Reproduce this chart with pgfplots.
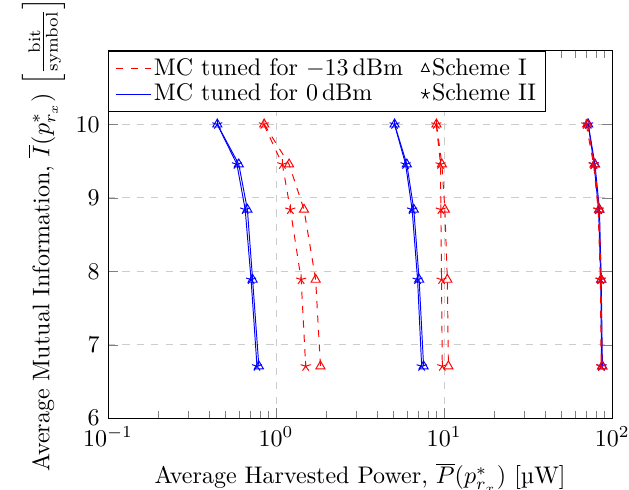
\documentclass[border=0pt]{standalone}
\usepackage{pgfplots}
\pgfplotsset{compat=1.18}
\begin{document}
\begin{tikzpicture}
\begin{axis}[
  at={(0,0)}, anchor=south west,
  scale only axis,
  width=210pt, height=153pt,
  xmode=log,
  xmin=0.1, xmax=100,
  ymin=6, ymax=11,
  ytick={6,7,8,9,10},
  grid=major,
  major grid style={dashed, gray!40},
  xlabel={Average Harvested Power, $\overline{P}(p^*_{r_x})$ [\textmu W]},
  ylabel={Average Mutual Information, $\overline{I}(p^*_{r_x})$ $\left[\frac{\mathrm{bit}}{\mathrm{symbol}}\right]$},
  ylabel shift=-2.5pt,
  legend columns=2,
  legend style={at={(0,1)}, anchor=north west,
    nodes={inner sep=1pt}, inner ysep=2pt,
    /tikz/column 2/.style={column sep=6.5pt}},
  legend cell align=left,
  legend image post style={xscale=0.85},
  mark size=2.2pt,
]
\addlegendimage{red, dashed}
\addlegendentry{MC tuned for $-13\,\mathrm{dBm}$}
\addlegendimage{black, only marks, mark=triangle}
\addlegendentry{Scheme I}
\addlegendimage{blue}
\addlegendentry{MC tuned for $0\,\mathrm{dBm}$}
\addlegendimage{black, only marks, mark=star}
\addlegendentry{Scheme II}

% Blue, Scheme I
\addplot[blue, mark=triangle, forget plot] coordinates {(0.447,10) (0.600,9.456) (0.675,8.84) (0.725,7.887) (0.790,6.707)};
\addplot[blue, mark=triangle, forget plot] coordinates {(5.07,10) (6.00,9.456) (6.60,8.84) (7.10,7.887) (7.55,6.707)};
\addplot[blue, mark=triangle, forget plot] coordinates {(72,10) (79,9.456) (84,8.84) (86,7.887) (87.5,6.707)};
% Blue, Scheme II
\addplot[blue, mark=star, forget plot] coordinates {(0.447,10) (0.585,9.456) (0.655,8.84) (0.710,7.887) (0.770,6.707)};
\addplot[blue, mark=star, forget plot] coordinates {(5.07,10) (5.90,9.456) (6.45,8.84) (6.95,7.887) (7.35,6.707)};
\addplot[blue, mark=star, forget plot] coordinates {(72,10) (78,9.456) (83,8.84) (85.5,7.887) (86.5,6.707)};
% Red, Scheme I
\addplot[red, dashed, mark=triangle, mark options={solid}, forget plot] coordinates {(0.85,10) (1.195,9.456) (1.466,8.84) (1.72,7.887) (1.837,6.707)};
\addplot[red, dashed, mark=triangle, mark options={solid}, forget plot] coordinates {(9.0,10) (9.7,9.456) (10.1,8.84) (10.45,7.887) (10.6,6.707)};
\addplot[red, dashed, mark=triangle, mark options={solid}, forget plot] coordinates {(71,10) (78.5,9.456) (83.5,8.84) (86,7.887) (87,6.707)};
% Red, Scheme II
\addplot[red, dashed, mark=star, mark options={solid}, forget plot] coordinates {(0.845,10) (1.09,9.456) (1.216,8.84) (1.41,7.887) (1.50,6.707)};
\addplot[red, dashed, mark=star, mark options={solid}, forget plot] coordinates {(8.98,10) (9.52,9.456) (9.56,8.84) (9.65,7.887) (9.75,6.707)};
\addplot[red, dashed, mark=star, mark options={solid}, forget plot] coordinates {(70,10) (77.5,9.456) (82.5,8.84) (85,7.887) (86,6.707)};
\end{axis}
\pgfresetboundingbox
\useasboundingbox (-45pt,-29.6pt) rectangle (217pt,174.2pt);
\end{tikzpicture}
\end{document}
